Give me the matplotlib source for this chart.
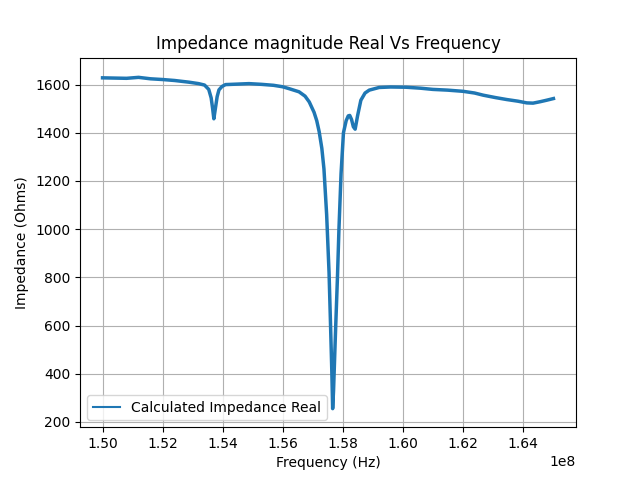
import numpy as np
import matplotlib
matplotlib.use('Agg')
from matplotlib import pyplot as plt

# values (frequency in units of 1e8 Hz)
freq_e8 = [1.5000, 1.5040, 1.5080, 1.5120, 1.5160, 1.5200, 1.5240, 1.5288,
           1.5320, 1.5340, 1.5354, 1.5362, 1.5367, 1.5371, 1.5376, 1.5382,
           1.5388, 1.5398, 1.5410, 1.5450, 1.5488, 1.5530, 1.5570, 1.5600,
           1.5622, 1.5655, 1.5675, 1.5689, 1.5705, 1.5714, 1.5722, 1.5731,
           1.5738, 1.5747, 1.5755, 1.5760, 1.5764, 1.5767, 1.5770, 1.5774,
           1.5777, 1.5783, 1.5788, 1.5795, 1.5803, 1.5812, 1.5819, 1.5824,
           1.5830, 1.5836, 1.5842, 1.5850, 1.5861, 1.5875, 1.5889, 1.5922,
           1.5960, 1.6012, 1.6060, 1.6101, 1.6150, 1.6202, 1.6240, 1.6269,
           1.6310, 1.6347, 1.6385, 1.6414, 1.6435, 1.6459, 1.6480, 1.6503]
impedance = [1628, 1627, 1626, 1630, 1624, 1621, 1617, 1610,
             1604, 1598, 1580, 1545, 1500, 1458, 1500, 1550,
             1578, 1592, 1600, 1602, 1604, 1601, 1597, 1591,
             1583, 1570, 1552, 1528, 1485, 1450, 1405, 1335,
             1250, 1060, 820, 600, 420, 255, 330, 480,
             590, 800, 1000, 1230, 1400, 1450, 1470, 1472,
             1455, 1425, 1415, 1470, 1535, 1565, 1577, 1588,
             1590, 1589, 1585, 1580, 1577, 1572, 1565, 1556,
             1546, 1538, 1531, 1524, 1523, 1529, 1535, 1542]

freq = np.asarray(freq_e8) * 1e8

fig = plt.figure(figsize=(6.4, 4.8), dpi=100)
axes = fig.add_subplot()
axes.plot(freq, impedance, lw=2.5, solid_joinstyle='round',
          label='Calculated Impedance Real')
axes.set_ylim(178, 1712)
axes.grid(True)
axes.set_title('Impedance magnitude Real Vs Frequency')
axes.set_xlabel('Frequency (Hz)')
axes.set_ylabel('Impedance (Ohms)')
leg = axes.legend(loc='lower left')
leg.get_lines()[0].set_linewidth(1.5)
fig.savefig('out.png')
plt.close(fig)
